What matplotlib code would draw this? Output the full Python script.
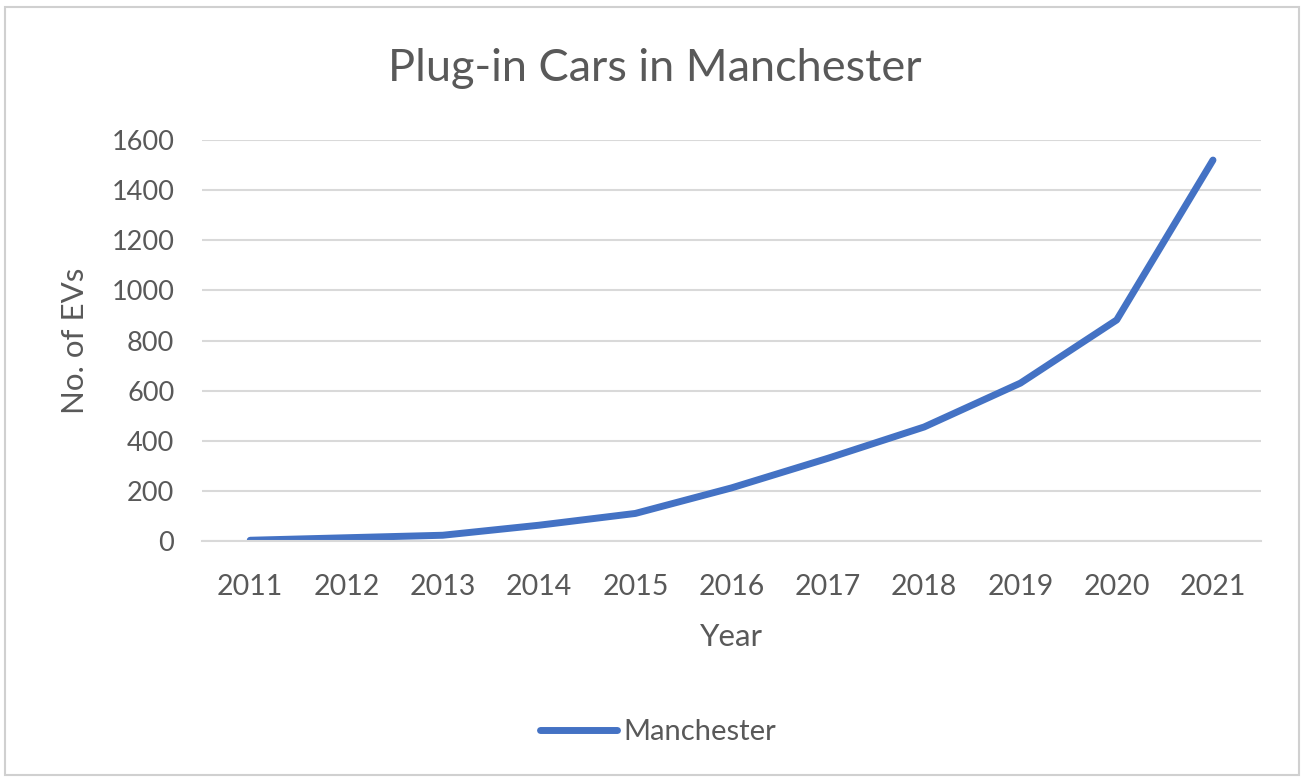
import numpy as np
import matplotlib.pyplot as plt
from matplotlib.patches import Rectangle

# 数据
years  = [2011, 2012, 2013, 2014, 2015, 2016, 2017, 2018, 2019, 2020, 2021]
ev_num = [3, 13, 23, 63, 110, 212, 330, 455, 630, 882, 1520]

plt.rcParams['font.family'] = ['Lato', 'DejaVu Sans']

text_grey = '#595959'
line_blue = '#4472C4'

fig = plt.figure(figsize=(13.07, 7.8), dpi=100)
ax  = fig.add_axes([0.1546, 0.3064, 0.8103, 0.5141])

ax.plot(years, ev_num, color=line_blue, linewidth=5, solid_capstyle='round',
        solid_joinstyle='round', label='Manchester')

ax.set_xlim(2010.5, 2021.5)
ax.set_ylim(0, 1600)
ax.set_xticks(years)
ax.set_xticklabels([str(y) for y in years])
ax.set_yticks(np.arange(0, 1601, 200))
ax.grid(axis='y', color='#d9d9d9', linewidth=1.5)
ax.set_axisbelow(True)
for s in ['top', 'right', 'left']:
    ax.spines[s].set_visible(False)
ax.spines['bottom'].set_color('#d9d9d9')
ax.spines['bottom'].set_linewidth(1.5)
ax.tick_params(length=0, labelsize=19.5, colors=text_grey)
ax.tick_params(axis='x', pad=24, labelsize=20.5)
ax.tick_params(axis='y', pad=20)

ax.set_xlabel('Year', fontsize=22.5, color=text_grey, labelpad=16)
ax.set_ylabel('No. of EVs', fontsize=22.5, color=text_grey, labelpad=16)
fig.text(0.501, 0.912, 'Plug-in Cars in Manchester', fontsize=32.5, color=text_grey,
         ha='center', va='center')

fig.legend(loc='center', bbox_to_anchor=(0.5035, 0.0615), frameon=False, fontsize=21,
           labelcolor=text_grey, handlelength=2.65, handletextpad=0.2)

# 外框
fig.patches.append(Rectangle((0.004, 0.006), 0.99, 0.985, transform=fig.transFigure,
                             fill=False, edgecolor='#d0d0d0', linewidth=1.5))

plt.savefig('out.png', dpi=100)
